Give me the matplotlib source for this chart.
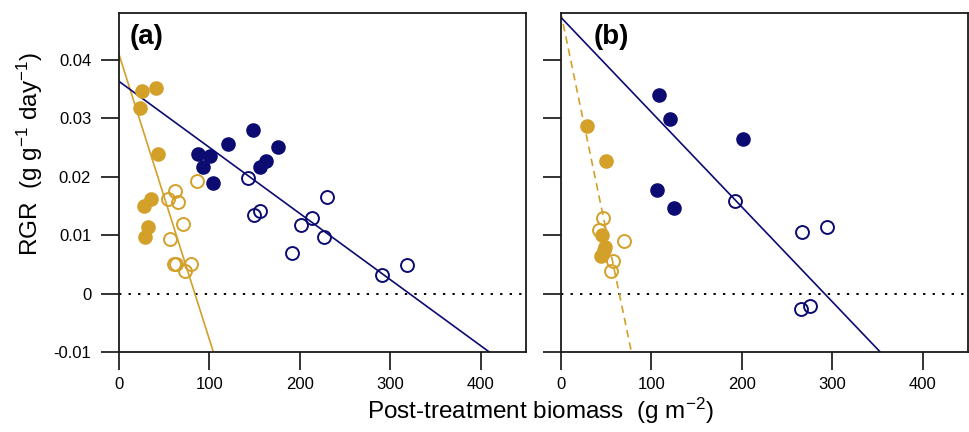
import matplotlib
matplotlib.use("Agg")
import matplotlib.pyplot as plt
import numpy as np

plt.rcParams['font.family'] = ['Liberation Sans', 'DejaVu Sans']
plt.rcParams['mathtext.fontset'] = 'custom'
plt.rcParams['mathtext.rm'] = 'Liberation Sans'
plt.rcParams['mathtext.it'] = 'Liberation Sans:italic'

GOLD = '#D3A029'
NAVY = '#0B0B72'

# panel (a)
a_gold_filled_x = [25.1, 40.6, 23.2, 43.5, 35.0, 27.6, 32.4, 28.8]
a_gold_filled_y = [0.0347, 0.0351, 0.0317, 0.0239, 0.0162, 0.0150, 0.0114, 0.0097]
a_gold_open_x = [86.6, 62.3, 54.6, 65.6, 70.4, 56.4, 60.8, 63.0, 73.0, 79.6]
a_gold_open_y = [0.0193, 0.0175, 0.0162, 0.0157, 0.0119, 0.0094, 0.0051, 0.0050, 0.0039, 0.0050]
a_navy_filled_x = [147.8, 120.9, 176.2, 87.0, 100.6, 93.3, 162.2, 155.9, 103.6]
a_navy_filled_y = [0.0279, 0.0256, 0.0251, 0.0239, 0.0235, 0.0216, 0.0226, 0.0217, 0.0189]
a_navy_open_x = [143.0, 229.7, 149.3, 155.9, 201.3, 213.8, 226.7, 191.7, 291.2, 318.9]
a_navy_open_y = [0.0198, 0.0166, 0.0135, 0.0141, 0.0117, 0.0130, 0.0097, 0.0069, 0.0031, 0.0049]
a_gold_fit = (0.0409, -0.000488)   # intercept, slope
a_navy_fit = (0.0363, -0.0001131)

# panel (b)
b_gold_filled_x = [29.4, 50.0, 45.2, 47.8, 44.1, 49.0]
b_gold_filled_y = [0.0287, 0.0227, 0.0100, 0.0075, 0.0064, 0.0079]
b_gold_open_x = [46.3, 42.6, 69.8, 57.4, 55.2]
b_gold_open_y = [0.0129, 0.0109, 0.0090, 0.0056, 0.0039]
b_navy_filled_x = [108.8, 120.6, 201.5, 105.9, 125.4]
b_navy_filled_y = [0.0339, 0.0299, 0.0265, 0.0178, 0.0147]
b_navy_open_x = [193.0, 266.5, 294.1, 265.8, 275.0]
b_navy_open_y = [0.0158, 0.0105, 0.0114, -0.0027, -0.0021]
b_gold_fit = (0.0482, -0.000745)
b_navy_fit = (0.0473, -0.0001624)

x_ticks = [0, 100, 200, 300, 400]
y_ticks = [-0.01, 0, 0.01, 0.02, 0.03, 0.04]
y_tick_labels = ['-0.01', '0', '0.01', '0.02', '0.03', '0.04']

fig = plt.figure(figsize=(9.7, 4.32), dpi=100)
ax_a = fig.add_axes([0.1227, 0.1852, 0.4196, 0.7847])
ax_b = fig.add_axes([0.578, 0.1852, 0.4202, 0.7847])


def draw_panel(ax, gfx, gfy, gox, goy, nfx, nfy, nox, noy, gfit, nfit, gls, label, lx):
    xs = np.array([0, 450])
    ax.axhline(0, color='black', ls=(0, (1.2, 3.7)), lw=1.4, zorder=1)
    ax.plot(xs, gfit[0] + gfit[1] * xs, color=GOLD, lw=1.2, ls=gls, zorder=2)
    ax.plot(xs, nfit[0] + nfit[1] * xs, color=NAVY, lw=1.2, zorder=2)
    ax.plot(gfx, gfy, 'o', ms=9.3, mfc=GOLD, mec=GOLD, mew=1.2, zorder=3)
    ax.plot(gox, goy, 'o', ms=9.3, mfc='none', mec=GOLD, mew=1.4, zorder=3)
    ax.plot(nfx, nfy, 'o', ms=9.3, mfc=NAVY, mec=NAVY, mew=1.2, zorder=3)
    ax.plot(nox, noy, 'o', ms=9.3, mfc='none', mec=NAVY, mew=1.4, zorder=3)
    ax.set_xlim(0, 450)
    ax.set_ylim(-0.01, 0.048)
    ax.set_xticks(x_ticks)
    ax.set_xticklabels([str(t) for t in x_ticks])
    ax.set_yticks(y_ticks)
    ax.tick_params(direction='out', length=13, width=1.2, labelsize=12, pad=5,
                   color='#111111')
    ax.tick_params(axis='y', pad=7)
    for s in ax.spines.values():
        s.set_linewidth(1.3)
        s.set_color('#1a1a1a')
    ax.text(lx, 0.929, label, transform=ax.transAxes, fontsize=20,
            fontweight='bold', va='center', ha='left')


draw_panel(ax_a, a_gold_filled_x, a_gold_filled_y, a_gold_open_x, a_gold_open_y,
           a_navy_filled_x, a_navy_filled_y, a_navy_open_x, a_navy_open_y,
           a_gold_fit, a_navy_fit, '-', '(a)', 0.025)
ax_a.set_yticklabels(y_tick_labels)

draw_panel(ax_b, b_gold_filled_x, b_gold_filled_y, b_gold_open_x, b_gold_open_y,
           b_navy_filled_x, b_navy_filled_y, b_navy_open_x, b_navy_open_y,
           b_gold_fit, b_navy_fit, (0, (4.5, 3)), '(b)', 0.082)
ax_b.set_yticklabels([])

fig.text(0.557, 0.05, r'Post-treatment biomass  (g m$^{-2}$)', fontsize=17.5,
         ha='center', va='center')
fig.text(0.031, 0.643, r'RGR  (g g$^{-1}$ day$^{-1}$)', fontsize=17.5,
         ha='center', va='center', rotation=90)

fig.savefig('out.png', dpi=100)
